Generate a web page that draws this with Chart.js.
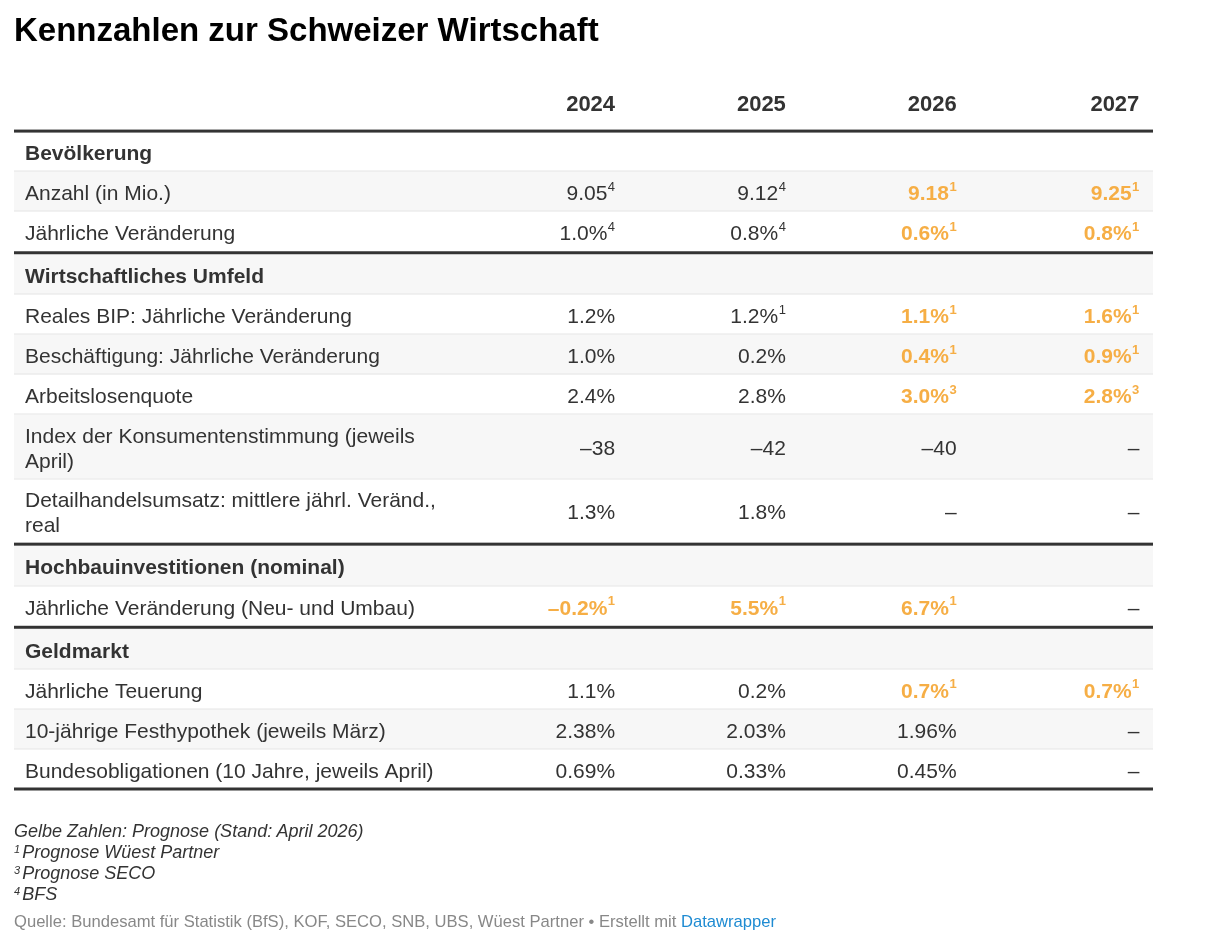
<!DOCTYPE html>
<html lang="de">
<head>
<meta charset="utf-8">
<title>Kennzahlen zur Schweizer Wirtschaft</title>
<script src="https://cdn.jsdelivr.net/npm/chart.js@4.4.1/dist/chart.umd.min.js"></script>
<style>
  html, body { margin: 0; padding: 0; background: #fff; }
  body { width: 1212px; height: 949px; position: relative; overflow: hidden; font-family: "Liberation Sans", Arial, sans-serif; }
  #tabelle { position: absolute; left: 0; top: 0; }
  #titel { position: absolute; left: 14px; top: 10px; margin: 0; font-size: 33px; line-height: 40px; font-weight: bold; color: #000; }
  .notizen { position: absolute; left: 14px; top: 821px; font-style: italic; font-size: 18px; line-height: 21px; color: #333; }
  .notizen .hoch { font-size: 11px; vertical-align: 5px; line-height: 0; margin-right: 2px; }
  .quelle { position: absolute; left: 14px; top: 912px; font-size: 16.6px; line-height: 20px; color: #888; }
  .quelle a { color: #1e8bd2; text-decoration: none; }
</style>
</head>
<body>
<canvas id="tabelle" width="1212" height="949"></canvas>
<h1 id="titel">Kennzahlen zur Schweizer Wirtschaft</h1>
<div class="notizen">
  Gelbe Zahlen: Prognose (Stand: April 2026)<br>
  <span class="hoch">1</span>Prognose Wüest Partner<br>
  <span class="hoch">3</span>Prognose SECO<br>
  <span class="hoch">4</span>BFS
</div>
<div class="quelle">Quelle: Bundesamt für Statistik (BfS), KOF, SECO, SNB, UBS, Wüest Partner • Erstellt mit <a href="#">Datawrapper</a></div>

<script>
// Spalten (Jahre)
const jahre = ["2024", "2025", "2026", "2027"];

// Abschnitte und ihre Kennzahlen
const abschnitte = ["Bevölkerung", "Wirtschaftliches Umfeld", "Hochbauinvestitionen (nominal)", "Geldmarkt"];
const kennzahlen = [
  ["Anzahl (in Mio.)", "Jährliche Veränderung"],
  ["Reales BIP: Jährliche Veränderung", "Beschäftigung: Jährliche Veränderung", "Arbeitslosenquote",
   "Index der Konsumentenstimmung (jeweils\nApril)", "Detailhandelsumsatz: mittlere jährl. Veränd.,\nreal"],
  ["Jährliche Veränderung (Neu- und Umbau)"],
  ["Jährliche Teuerung", "10-jährige Festhypothek (jeweils März)", "Bundesobligationen (10 Jahre, jeweils April)"]
];

// Werte pro Jahr (in der Reihenfolge der Kennzahlen)
const werte2024 = ["9.05⁴", "1.0%⁴", "1.2%", "1.0%", "2.4%", "–38", "1.3%", "–0.2%¹", "1.1%", "2.38%", "0.69%"];
const werte2025 = ["9.12⁴", "0.8%⁴", "1.2%¹", "0.2%", "2.8%", "–42", "1.8%", "5.5%¹", "0.2%", "2.03%", "0.33%"];
const werte2026 = ["9.18¹", "0.6%¹", "1.1%¹", "0.4%¹", "3.0%³", "–40", "–", "6.7%¹", "0.7%¹", "1.96%", "0.45%"];
const werte2027 = ["9.25¹", "0.8%¹", "1.6%¹", "0.9%¹", "2.8%³", "–", "–", "–", "0.7%¹", "–", "–"];

// Prognosen (gelb) pro Jahr
const prognose2024 = [0, 0, 0, 0, 0, 0, 0, 1, 0, 0, 0];
const prognose2025 = [0, 0, 0, 0, 0, 0, 0, 1, 0, 0, 0];
const prognose2026 = [1, 1, 1, 1, 1, 0, 0, 1, 1, 0, 0];
const prognose2027 = [1, 1, 1, 1, 1, 0, 0, 0, 1, 0, 0];

const werte = [werte2024, werte2025, werte2026, werte2027];
const prognosen = [prognose2024, prognose2025, prognose2026, prognose2027];

// Layout
const SPALTE_X = [1, 2, 3, 4.07];
const DICK = 0.075;           // Platz für dicke Trennlinie
const ZWEIZEILIG = 1.6;
const TEXT_DY = 3;            // Text leicht unter die Zeilenmitte
const GELB = "#f6ae45";
const TEXT = "#333333";
const SCHRIFT = '"Liberation Sans", Arial, sans-serif';

// Zeilen aufbauen
const zeilen = [];
let pos = 0;
let k = 0;
abschnitte.forEach((titel, a) => {
  if (a > 0) pos += DICK;
  zeilen.push({ art: "abschnitt", text: titel, oben: pos, hoehe: 1, erste: true, dick: a > 0 });
  pos += 1;
  kennzahlen[a].forEach((label) => {
    const h = label.includes("\n") ? ZWEIZEILIG : 1;
    zeilen.push({ art: "zeile", text: label, oben: pos, hoehe: h, idx: k });
    pos += h;
    k++;
  });
});
const gesamt = pos;

// Zellen als Punkte (unsichtbar), Text wird daran gezeichnet
const zellen = [];
zeilen.forEach((z) => {
  if (z.art !== "zeile") return;
  jahre.forEach((j, s) => {
    zellen.push({
      x: SPALTE_X[s],
      y: z.oben + z.hoehe / 2,
      text: werte[s][z.idx],
      prognose: prognosen[s][z.idx] === 1
    });
  });
});

const hochMap = { "¹": "1", "²": "2", "³": "3", "⁴": "4" };

function zeichneWert(ctx, text, x, y, fett, farbe) {
  const m = text.match(/^(.*?)([¹²³⁴]*)$/);
  const haupt = m[1];
  const hoch = m[2].split("").map((c) => hochMap[c]).join("");
  ctx.fillStyle = farbe;
  ctx.textBaseline = "middle";
  ctx.textAlign = "right";
  let rechts = x;
  if (hoch) {
    ctx.font = (fett ? "bold " : "") + "13px " + SCHRIFT;
    ctx.fillText(hoch, rechts, y - 7);
    rechts -= ctx.measureText(hoch).width + 0.5;
  }
  ctx.font = (fett ? "bold " : "") + "21px " + SCHRIFT;
  ctx.fillText(haupt, rechts, y);
}

const tabellenPlugin = {
  id: "tabelle",
  beforeDatasetsDraw(chart) {
    const { ctx } = chart;
    const x = chart.scales.x;
    const y = chart.scales.y;
    const links = x.getPixelForValue(x.min);
    const rechts = x.getPixelForValue(x.max);
    ctx.save();

    // Hintergründe (abwechselnd)
    zeilen.forEach((z, i) => {
      if (i % 2 === 1) {
        const t = y.getPixelForValue(z.oben);
        const b = y.getPixelForValue(z.oben + z.hoehe);
        ctx.fillStyle = "#f7f7f7";
        ctx.fillRect(links, t, rechts - links, b - t);
      }
    });

    // dünne Linien
    ctx.fillStyle = "#e5e5e5";
    zeilen.forEach((z) => {
      if (z.erste) return;
      const t = Math.round(y.getPixelForValue(z.oben));
      ctx.fillRect(links, t - 0.5, rechts - links, 1);
    });

    // dicke Linien
    ctx.fillStyle = "#333333";
    const dicke = [0, gesamt];
    zeilen.forEach((z) => { if (z.dick) dicke.push(z.oben - DICK / 2); });
    dicke.forEach((v) => {
      const t = y.getPixelForValue(v);
      ctx.fillRect(links, t - 1.5, rechts - links, 3);
    });

    // Kopfzeile
    ctx.fillStyle = TEXT;
    ctx.font = "bold 22px " + SCHRIFT;
    ctx.textAlign = "right";
    ctx.textBaseline = "middle";
    jahre.forEach((j, s) => {
      ctx.fillText(j, x.getPixelForValue(SPALTE_X[s]), y.getPixelForValue(-0.7) + 2);
    });

    // Beschriftungen links
    ctx.textAlign = "left";
    zeilen.forEach((z) => {
      const mitte = y.getPixelForValue(z.oben + z.hoehe / 2) + TEXT_DY;
      ctx.font = (z.art === "abschnitt" ? "bold " : "") + "21px " + SCHRIFT;
      const teile = z.text.split("\n");
      teile.forEach((t, n) => {
        const dy = (n - (teile.length - 1) / 2) * 25;
        ctx.fillText(t, links + 11, mitte + dy);
      });
    });
    ctx.restore();
  },
  afterDatasetsDraw(chart) {
    const { ctx } = chart;
    const meta = chart.getDatasetMeta(0);
    ctx.save();
    meta.data.forEach((el, i) => {
      const z = zellen[i];
      zeichneWert(ctx, z.text, el.x, el.y + TEXT_DY, z.prognose, z.prognose ? GELB : TEXT);
    });
    ctx.restore();
  }
};

const ctx = document.getElementById("tabelle").getContext("2d");
const tabelle = new Chart(ctx, {
  type: "scatter",
  data: {
    datasets: [{
      data: zellen,
      pointRadius: 0,
      pointHoverRadius: 0
    }]
  },
  options: {
    responsive: false,
    animation: false,
    events: [],
    layout: { padding: { left: 14, right: 59, top: 71, bottom: 160 } },
    scales: {
      x: { type: "linear", display: false, min: -2.52, max: 4.15 },
      y: { type: "linear", display: false, min: -1.5, max: gesamt, reverse: true }
    },
    plugins: {
      legend: { display: false },
      tooltip: { enabled: false }
    }
  },
  plugins: [tabellenPlugin]
});
</script>
</body>
</html>
